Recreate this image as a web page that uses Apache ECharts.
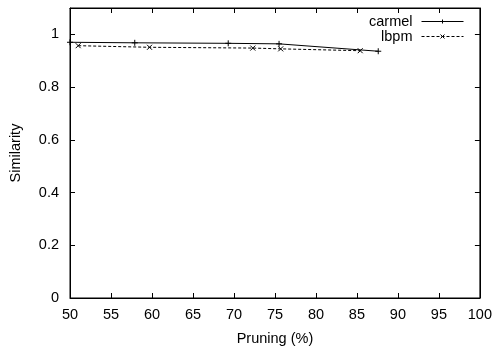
<!DOCTYPE html>
<html>
<head>
<meta charset="utf-8">
<script src="https://cdn.jsdelivr.net/npm/echarts@6/dist/echarts.min.js"></script>
<style>
  html, body { margin: 0; padding: 0; background: #fff; }
  #chart { width: 495px; height: 352px; }
</style>
</head>
<body>
<div id="chart"></div>
<script>
// Similarity against pruning percentage for the two methods
const carmelPruning = [50, 57.9, 69.3, 75.5, 87.6];
const carmelSimilarity = [0.970, 0.968, 0.966, 0.964, 0.936];
const lbpmPruning = [51.0, 59.7, 72.3, 75.7, 85.4];
const lbpmSimilarity = [0.957, 0.951, 0.948, 0.945, 0.938];
const xTicks = [50, 55, 60, 65, 70, 75, 80, 85, 90, 95, 100];
const yTicks = [0, 0.2, 0.4, 0.6, 0.8, 1];

const FONT = 'Liberation Sans, Arial, sans-serif';
const FS = 14.5;
const plusPath = 'path://M-5,0L5,0M0,-5L0,5';
const crossPath = 'path://M-5,-5L5,5M-5,5L5,-5';

function pairs(xs, ys) { return xs.map((x, i) => [x, ys[i]]); }

const chart = echarts.init(document.getElementById('chart'), null, { renderer: 'canvas' });

const baseAxis = {
  type: 'value',
  axisLine: { show: true, onZero: false, lineStyle: { color: '#000', width: 1 } },
  axisTick: { show: true, inside: true, length: 5, lineStyle: { color: '#000' } },
  splitLine: { show: false },
  axisLabel: { color: '#000', fontFamily: FONT, fontSize: FS }
};

chart.setOption({
  animation: false,
  backgroundColor: '#fff',
  grid: { left: 69, right: 12, top: 8, bottom: 54, show: true, borderColor: '#000', borderWidth: 1 },
  legend: {
    orient: 'vertical',
    right: 31,
    top: 14,
    padding: 0,
    align: 'right',
    itemWidth: 42,
    itemHeight: 5,
    itemGap: 0,
    lineStyle: { width: 1 },
    itemStyle: { color: 'rgba(0,0,0,0)', borderColor: '#000', borderWidth: 1 },
    textStyle: { color: '#000', fontFamily: FONT, fontSize: FS, lineHeight: 14, padding: [0, 4, 0, 0] },
    data: ['carmel', 'lbpm']
  },
  xAxis: [
    Object.assign({}, baseAxis, {
      min: 50, max: 100, interval: 5,
      name: 'Pruning (%)', nameLocation: 'middle', nameGap: 33,
      nameTextStyle: { color: '#000', fontFamily: FONT, fontSize: FS },
      axisLabel: Object.assign({}, baseAxis.axisLabel, {
        margin: 9,
        formatter: v => xTicks.includes(v) ? String(v) : ''
      })
    }),
    Object.assign({}, baseAxis, {
      min: 50, max: 100, interval: 5, position: 'top',
      axisLabel: { show: false }
    })
  ],
  yAxis: [
    Object.assign({}, baseAxis, {
      min: 0, max: 1.1, interval: 0.2,
      name: 'Similarity', nameLocation: 'middle', nameGap: 47, nameRotate: 90,
      nameTextStyle: { color: '#000', fontFamily: FONT, fontSize: FS },
      axisLabel: Object.assign({}, baseAxis.axisLabel, {
        margin: 11,
        showMaxLabel: false,
        formatter: v => {
          const t = yTicks.find(k => Math.abs(k - v) < 1e-9);
          return t === undefined ? '' : String(t);
        }
      })
    }),
    Object.assign({}, baseAxis, {
      min: 0, max: 1.1, interval: 0.2, position: 'right',
      axisLabel: { show: false }
    })
  ],
  series: [
    {
      name: 'carmel',
      type: 'line',
      data: pairs(carmelPruning, carmelSimilarity),
      symbol: plusPath,
      symbolSize: 6,
      showAllSymbol: true,
      lineStyle: { color: '#000', width: 1, type: 'solid' },
      itemStyle: { color: 'rgba(0,0,0,0)', borderColor: '#000', borderWidth: 1 }
    },
    {
      name: 'lbpm',
      type: 'line',
      data: pairs(lbpmPruning, lbpmSimilarity),
      symbol: crossPath,
      symbolSize: 5,
      showAllSymbol: true,
      lineStyle: { color: '#000', width: 1, type: [3, 2] },
      itemStyle: { color: 'rgba(0,0,0,0)', borderColor: '#000', borderWidth: 1 }
    }
  ]
});
</script>
</body>
</html>
